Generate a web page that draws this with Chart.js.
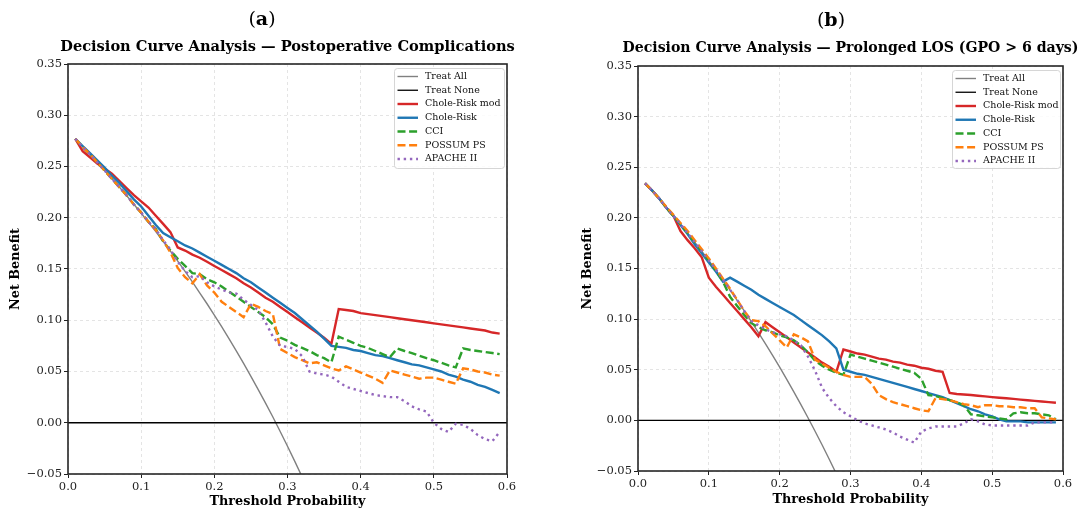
<!DOCTYPE html>
<html>
<head>
<meta charset="utf-8">
<script src="https://cdn.jsdelivr.net/npm/chart.js@4.4.1/dist/chart.umd.min.js"></script>
<style>
  html, body { margin: 0; padding: 0; background: #fff; overflow: hidden; }
  #wrap { position: relative; width: 1083px; height: 510px; }
  canvas { position: absolute; top: 0; }
</style>
</head>
<body>
<div id="wrap">
  <canvas id="chartA" width="545" height="510" style="left:0px"></canvas>
  <canvas id="chartB" width="538" height="510" style="left:545px"></canvas>
</div>
<script>
// threshold grid shared by every curve (0.01 .. 0.59)
const thresholds = [
  0.01, 0.02, 0.03, 0.04, 0.05, 0.06, 0.07, 0.08, 0.09, 0.10,
  0.11, 0.12, 0.13, 0.14, 0.15, 0.16, 0.17, 0.18, 0.19, 0.20,
  0.21, 0.22, 0.23, 0.24, 0.25, 0.26, 0.27, 0.28, 0.29, 0.30,
  0.31, 0.32, 0.33, 0.34, 0.35, 0.36, 0.37, 0.38, 0.39, 0.40,
  0.41, 0.42, 0.43, 0.44, 0.45, 0.46, 0.47, 0.48, 0.49, 0.50,
  0.51, 0.52, 0.53, 0.54, 0.55, 0.56, 0.57, 0.58, 0.59
];
const xTicks = [0, 0.1, 0.2, 0.3, 0.4, 0.5, 0.6];
const xTickLabels = ['0.0', '0.1', '0.2', '0.3', '0.4', '0.5', '0.6'];
const yTicks = [-0.05, 0, 0.05, 0.10, 0.15, 0.20, 0.25, 0.30, 0.35];
const yTickLabels = ['\u22120.05', '0.00', '0.05', '0.10', '0.15', '0.20', '0.25', '0.30', '0.35'];

const treatNoneX = [0, 0.6];
const treatNoneY = [0, 0];

// ---- (a) Postoperative complications ----
const aTreatAll = [
  0.2768, 0.2694, 0.2619, 0.2542, 0.2463, 0.2383, 0.2301, 0.2217, 0.2132, 0.2044,
  0.1955, 0.1864, 0.1770, 0.1674, 0.1576, 0.1476, 0.1374, 0.1268, 0.1161, 0.1050,
  0.0937, 0.0821, 0.0701, 0.0579, 0.0453, 0.0324, 0.0192, 0.0056, -0.0085, -0.0229,
  -0.0377, -0.0529, -0.0687
];
const aCholeMod = [
  0.277, 0.265, 0.259, 0.253, 0.248, 0.243, 0.236, 0.229, 0.222, 0.216,
  0.210, 0.202, 0.194, 0.186, 0.171, 0.168, 0.164, 0.161, 0.157, 0.153,
  0.149, 0.145, 0.141, 0.136, 0.132, 0.127, 0.122, 0.118, 0.113, 0.108,
  0.103, 0.098, 0.093, 0.088, 0.083, 0.077, 0.111, 0.110, 0.109, 0.107,
  0.106, 0.105, 0.104, 0.103, 0.102, 0.101, 0.100, 0.099, 0.098, 0.097,
  0.096, 0.095, 0.094, 0.093, 0.092, 0.091, 0.090, 0.088, 0.087
];
const aChole = [
  0.277, 0.270, 0.263, 0.256, 0.249, 0.241, 0.234, 0.226, 0.218, 0.211,
  0.202, 0.193, 0.185, 0.181, 0.177, 0.173, 0.170, 0.166, 0.162, 0.158,
  0.154, 0.150, 0.146, 0.141, 0.137, 0.132, 0.127, 0.122, 0.117, 0.112,
  0.107, 0.101, 0.095, 0.089, 0.082, 0.075, 0.074, 0.073, 0.071, 0.070,
  0.068, 0.066, 0.065, 0.063, 0.061, 0.059, 0.057, 0.056, 0.054, 0.052,
  0.050, 0.047, 0.045, 0.042, 0.040, 0.037, 0.035, 0.032, 0.029
];
const aCci = [
  0.277, 0.269, 0.262, 0.254, 0.246, 0.238, 0.230, 0.222, 0.213, 0.205,
  0.196, 0.189, 0.177, 0.168, 0.160, 0.153, 0.146, 0.145, 0.140, 0.137,
  0.133, 0.128, 0.123, 0.118, 0.113, 0.108, 0.103, 0.096, 0.083, 0.080,
  0.076, 0.073, 0.070, 0.066, 0.063, 0.059, 0.084, 0.081, 0.078, 0.075,
  0.073, 0.070, 0.067, 0.064, 0.0725, 0.070, 0.068, 0.0655, 0.063, 0.061,
  0.0585, 0.056, 0.054, 0.0725, 0.071, 0.070, 0.069, 0.068, 0.067
];
const aPossum = [
  0.277, 0.269, 0.262, 0.254, 0.246, 0.238, 0.230, 0.222, 0.213, 0.205,
  0.196, 0.188, 0.178, 0.166, 0.151, 0.142, 0.136, 0.145, 0.134, 0.127,
  0.118, 0.113, 0.108, 0.103, 0.116, 0.113, 0.109, 0.106, 0.072, 0.068,
  0.064, 0.061, 0.058, 0.059, 0.056, 0.053, 0.051, 0.055, 0.052, 0.049,
  0.046, 0.043, 0.039, 0.051, 0.049, 0.047, 0.045, 0.043, 0.044, 0.044,
  0.042, 0.040, 0.038, 0.053, 0.052, 0.050, 0.049, 0.047, 0.046
];
const aApache = [
  0.277, 0.269, 0.262, 0.254, 0.246, 0.238, 0.230, 0.222, 0.213, 0.205,
  0.196, 0.189, 0.178, 0.169, 0.157, 0.148, 0.142, 0.143, 0.137, 0.133,
  0.130, 0.127, 0.126, 0.120, 0.115, 0.110, 0.098, 0.084, 0.075, 0.074,
  0.072, 0.065, 0.050, 0.048, 0.047, 0.045, 0.040, 0.035, 0.033, 0.031,
  0.029, 0.027, 0.026, 0.025, 0.025, 0.021, 0.016, 0.013, 0.011, 0.000,
  -0.006, -0.009, -0.001, -0.002, -0.006, -0.012, -0.016, -0.018, -0.009
];

// ---- (b) Prolonged LOS ----
const bTreatAll = [
  0.2343, 0.2265, 0.2186, 0.2104, 0.2021, 0.1936, 0.1849, 0.1761, 0.1670, 0.1578,
  0.1483, 0.1386, 0.1287, 0.1186, 0.1082, 0.0976, 0.0867, 0.0756, 0.0642, 0.0525,
  0.0405, 0.0282, 0.0156, 0.0026, -0.0107, -0.0243, -0.0384, -0.0528, -0.0676
];
const bCholeMod = [
  0.234, 0.227, 0.219, 0.210, 0.202, 0.187, 0.178, 0.170, 0.161, 0.141,
  0.132, 0.124, 0.116, 0.108, 0.100, 0.092, 0.083, 0.097, 0.092, 0.087,
  0.082, 0.077, 0.072, 0.067, 0.062, 0.057, 0.053, 0.048, 0.070, 0.068,
  0.066, 0.065, 0.063, 0.061, 0.060, 0.058, 0.057, 0.055, 0.054, 0.052,
  0.051, 0.049, 0.048, 0.027, 0.026, 0.0256, 0.025, 0.0243, 0.0237, 0.023,
  0.0224, 0.0218, 0.0212, 0.0205, 0.0199, 0.0193, 0.0186, 0.018, 0.0174
];
const bChole = [
  0.234, 0.227, 0.219, 0.210, 0.202, 0.193, 0.184, 0.174, 0.165, 0.156,
  0.147, 0.137, 0.141, 0.137, 0.133, 0.129, 0.124, 0.120, 0.116, 0.112,
  0.108, 0.104, 0.099, 0.094, 0.089, 0.084, 0.078, 0.071, 0.050, 0.048,
  0.046, 0.045, 0.043, 0.041, 0.039, 0.037, 0.035, 0.033, 0.031, 0.029,
  0.027, 0.025, 0.023, 0.020, 0.017, 0.014, 0.011, 0.009, 0.006, 0.004,
  0.001, -0.001, -0.001, -0.001, -0.002, -0.002, -0.002, -0.002, -0.002
];
const bCci = [
  0.234, 0.227, 0.219, 0.210, 0.202, 0.194, 0.185, 0.176, 0.167, 0.158,
  0.148, 0.137, 0.122, 0.113, 0.104, 0.096, 0.092, 0.089, 0.087, 0.084,
  0.082, 0.079, 0.074, 0.067, 0.059, 0.054, 0.050, 0.047, 0.045, 0.065,
  0.063, 0.061, 0.059, 0.057, 0.055, 0.053, 0.051, 0.049, 0.047, 0.041,
  0.025, 0.024, 0.022, 0.020, 0.018, 0.015, 0.006, 0.005, 0.004, 0.003,
  0.002, 0.001, 0.007, 0.008, 0.007, 0.007, 0.006, 0.005, 0.001
];
const bPossum = [
  0.234, 0.227, 0.219, 0.211, 0.203, 0.195, 0.187, 0.178, 0.169, 0.160,
  0.150, 0.140, 0.130, 0.119, 0.108, 0.099, 0.098, 0.093, 0.086, 0.079,
  0.072, 0.085, 0.082, 0.078, 0.060, 0.056, 0.052, 0.048, 0.045, 0.043,
  0.043, 0.043, 0.036, 0.025, 0.021, 0.018, 0.016, 0.014, 0.012, 0.010,
  0.009, 0.022, 0.021, 0.020, 0.018, 0.016, 0.015, 0.013, 0.015, 0.015,
  0.014, 0.014, 0.013, 0.013, 0.012, 0.012, 0.003, 0.002, 0.001
];
const bApache = [
  0.234, 0.227, 0.219, 0.210, 0.202, 0.194, 0.185, 0.176, 0.167, 0.158,
  0.149, 0.139, 0.129, 0.119, 0.108, 0.098, 0.094, 0.090, 0.087, 0.085,
  0.083, 0.079, 0.074, 0.063, 0.049, 0.032, 0.022, 0.014, 0.008, 0.004,
  0.000, -0.003, -0.005, -0.007, -0.009, -0.012, -0.016, -0.019, -0.022, -0.011,
  -0.008, -0.006, -0.006, -0.006, -0.006, -0.003, 0.001, -0.001, -0.004, -0.005,
  -0.005, -0.005, -0.005, -0.005, -0.005, -0.002, -0.002, -0.002, -0.002
];

const seriesNames = ['Treat All', 'Treat None', 'Chole-Risk mod', 'Chole-Risk', 'CCI', 'POSSUM PS', 'APACHE II'];
const seriesColors = ['#808080', '#000000', '#d62728', '#1f77b4', '#2ca02c', '#ff7f0e', '#9467bd'];
const seriesWidths = [1.4, 1.3, 2.4, 2.4, 2.4, 2.4, 2.4];
const seriesDashes = [[], [], [], [], [8, 3.6], [8, 3.6], [2.4, 3.8]];

const FONT = '"DejaVu Serif", serif';

const decor = {
  id: 'decor',
  beforeDraw(chart) {
    const ctx = chart.ctx;
    ctx.save();
    ctx.fillStyle = '#fff';
    ctx.fillRect(0, 0, chart.width, chart.height);
    ctx.restore();
  },
  afterDraw(chart, args, opts) {
    const ctx = chart.ctx;
    const a = chart.chartArea;
    ctx.save();

    // axes frame
    ctx.strokeStyle = '#262626';
    ctx.lineWidth = 1.6;
    ctx.setLineDash([]);
    ctx.strokeRect(a.left, a.top, a.right - a.left, a.bottom - a.top);

    // panel tag "(a)" with bold letter
    ctx.fillStyle = '#000';
    ctx.textBaseline = 'middle';
    ctx.textAlign = 'left';
    const reg = '19px ' + FONT, bold = 'bold 19px ' + FONT;
    ctx.font = reg;
    const wOpen = ctx.measureText('(').width, wClose = ctx.measureText(')').width;
    ctx.font = bold;
    const wTag = ctx.measureText(opts.tag).width;
    let x = opts.tagX - (wOpen + wTag + wClose) / 2;
    ctx.font = reg; ctx.fillText('(', x, opts.tagY); x += wOpen;
    ctx.font = bold; ctx.fillText(opts.tag, x, opts.tagY); x += wTag;
    ctx.font = reg; ctx.fillText(')', x, opts.tagY);

    // title
    ctx.textAlign = 'center';
    ctx.font = 'bold ' + opts.titleSize + 'px ' + FONT;
    ctx.fillText(opts.title, (a.left + a.right) / 2, opts.titleY);

    // legend
    const L = opts.legend;
    ctx.beginPath();
    ctx.roundRect(L.x, L.y, L.w, L.h, 3);
    ctx.fillStyle = 'rgba(255,255,255,0.85)';
    ctx.fill();
    ctx.strokeStyle = '#cccccc';
    ctx.lineWidth = 0.8;
    ctx.stroke();
    ctx.font = '9.5px ' + FONT;
    ctx.textAlign = 'left';
    seriesNames.forEach((name, i) => {
      const y = L.y + 8 + i * 13.75;
      ctx.beginPath();
      ctx.strokeStyle = seriesColors[i];
      ctx.lineWidth = seriesWidths[i];
      ctx.setLineDash(seriesDashes[i]);
      ctx.moveTo(L.x + 3, y);
      ctx.lineTo(L.x + 23.5, y);
      ctx.stroke();
      ctx.setLineDash([]);
      ctx.fillStyle = '#111';
      ctx.fillText(name, L.x + 30.5, y);
    });
    ctx.restore();
  }
};

function buildChart(canvasId, panel, values) {
  const datasets = seriesNames.map((name, i) => ({
    label: name,
    data: i === 1
      ? treatNoneX.map((x, k) => ({ x: x, y: treatNoneY[k] }))
      : values[i].map((y, k) => ({ x: thresholds[k], y: y })),
    borderColor: seriesColors[i],
    borderWidth: seriesWidths[i],
    borderDash: seriesDashes[i],
    pointRadius: 0,
    fill: false,
    tension: 0,
    clip: 0,
    order: seriesNames.length - i
  }));

  const tickFont = { family: FONT, size: 11.5 };
  const titleFont = { family: FONT, size: 12.8, weight: 'bold' };
  const gridOpts = { color: '#dddddd', lineWidth: 0.8, tickLength: 4, tickColor: '#222', tickWidth: 1 };

  return new Chart(document.getElementById(canvasId), {
    type: 'line',
    data: { datasets },
    options: {
      responsive: false,
      animation: false,
      devicePixelRatio: 1,
      events: [],
      layout: { padding: panel.padding },
      scales: {
        x: {
          type: 'linear',
          min: 0,
          max: 0.6,
          afterBuildTicks: s => { s.ticks = xTicks.map(v => ({ value: v })); },
          afterFit: s => { s.height = panel.xHeight; },
          ticks: {
            callback: (v, i) => xTickLabels[i],
            font: tickFont, color: '#222', padding: 2, maxRotation: 0, autoSkip: false
          },
          grid: gridOpts,
          border: { display: false, dash: [3, 3] },
          title: {
            display: true, text: 'Threshold Probability', font: titleFont, color: '#000',
            padding: { top: 0, bottom: panel.xTitlePad }
          }
        },
        y: {
          min: -0.05,
          max: 0.35,
          afterBuildTicks: s => { s.ticks = yTicks.map(v => ({ value: v })); },
          afterFit: s => { s.width = panel.yWidth; },
          ticks: {
            callback: (v, i) => yTickLabels[i],
            font: tickFont, color: '#222', padding: 2, autoSkip: false
          },
          grid: gridOpts,
          border: { display: false, dash: [3, 3] },
          title: {
            display: true, text: 'Net Benefit', font: titleFont, color: '#000',
            padding: { top: 7.5, bottom: 0 }
          }
        }
      },
      plugins: {
        legend: { display: false },
        tooltip: { enabled: false },
        decor: {
          tag: panel.tag, tagX: panel.tagX, tagY: panel.tagY,
          title: panel.title, titleY: panel.titleY, titleSize: panel.titleSize,
          legend: panel.legend
        }
      }
    },
    plugins: [decor]
  });
}

buildChart('chartA', {
  tag: 'a', tagX: 262, tagY: 20,
  title: 'Decision Curve Analysis \u2014 Postoperative Complications', titleY: 47, titleSize: 14.6,
  padding: { left: 0, top: 64, right: 38, bottom: 0 },
  yWidth: 68, xHeight: 36, xTitlePad: 0.5,
  legend: { x: 394.5, y: 68.5, w: 110, h: 100 }
}, [aTreatAll, null, aCholeMod, aChole, aCci, aPossum, aApache]);

buildChart('chartB', {
  tag: 'b', tagX: 286, tagY: 21,
  title: 'Decision Curve Analysis \u2014 Prolonged LOS (GPO > 6 days)', titleY: 48, titleSize: 14.1,
  padding: { left: 27, top: 66, right: 20, bottom: 0 },
  yWidth: 66, xHeight: 39, xTitlePad: 2.5,
  legend: { x: 407.5, y: 70.5, w: 108, h: 98 }
}, [bTreatAll, null, bCholeMod, bChole, bCci, bPossum, bApache]);
</script>
</body>
</html>
